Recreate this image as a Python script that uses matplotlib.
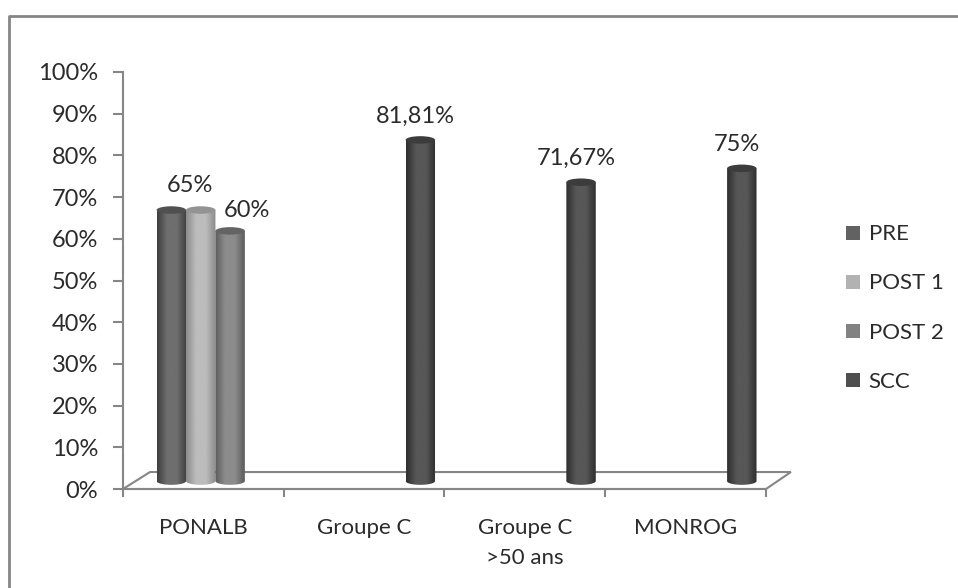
#!/usr/bin/env python
import numpy as np
import matplotlib
matplotlib.use('Agg')
import matplotlib.pyplot as plt
from matplotlib.colors import LinearSegmentedColormap
from matplotlib.lines import Line2D
from matplotlib.patches import Ellipse, Polygon
from matplotlib.path import Path

plt.rcParams['font.family'] = ['Lato', 'DejaVu Sans']
plt.rcParams['font.size'] = 17

categories = ['PONALB', 'Groupe C', 'Groupe C\n>50 ans', 'MONROG']
series_names = ['PRE', 'POST 1', 'POST 2', 'SCC']
pre = [65, None, None, None]
post1 = [65, None, None, None]
post2 = [60, None, None, None]
scc = [None, 81.81, 71.67, 75]
bar_labels_pre = ['65%', None, None, None]
bar_labels_post2 = ['60%', None, None, None]
bar_labels_scc = [None, '81,81%', '71,67%', '75%']
yticks = list(range(0, 101, 10))

GREY = '#868686'
TEXT = '#2b2b2b'
# edge, middle and top-cap shade of each series
shades = [('#3e3e3e', '#6e6e6e', '#505050'),
          ('#8c8c8c', '#bcbcbc', '#939393'),
          ('#5c5c5c', '#8c8c8c', '#646464'),
          ('#2e2e2e', '#575757', '#3c3c3c')]
legend_colors = ['#626262', '#b2b2b2', '#828282', '#4f4f4f']

fig = plt.figure(figsize=(9.58, 5.88), dpi=100)
W, H = 958.0, 588.0
ax = fig.add_axes([123 / W, 1 - 489 / H, 643 / W, 417 / H])

bar_w = 0.183       # one bar, in category units
depth_x = 0.075     # bars stand this far into the floor
depth_y = 1.9
cap = 0.9           # half height of the elliptical cap, in percent


def cylinder(x, value, colors):
    left, right = x - bar_w / 2, x + bar_w / 2
    t = np.linspace(np.pi, 2 * np.pi, 30)
    xs = x + bar_w / 2 * np.cos(t)
    ys = depth_y + cap * np.sin(t)
    verts = list(zip(xs, ys)) + [(right, value + depth_y), (left, value + depth_y), (left, depth_y)]
    clip = Path(verts)
    cmap = LinearSegmentedColormap.from_list('c', [colors[0], colors[1], colors[1], colors[0]])
    grad = np.linspace(0, 1, 64).reshape(1, -1)
    im = ax.imshow(grad, cmap=cmap, aspect='auto', zorder=3,
                   extent=[left, right, 0, value + depth_y])
    im.set_clip_path(clip, transform=ax.transData)
    ax.add_patch(Ellipse((x, value + depth_y), bar_w, 2 * cap, color=colors[2], zorder=4, lw=0))


# floor
floor = Polygon([(-0.5, 0), (-0.5 + 0.168, 4.07), (3.5 + 0.155, 4.07), (3.5, 0)], closed=True,
                fill=False, edgecolor=GREY, lw=1.5, clip_on=False, zorder=1)
ax.add_patch(floor)

all_series = [pre, post1, post2, scc]
for j, values in enumerate(all_series):
    for i, v in enumerate(values):
        if v is None:
            continue
        x = i + (j - 1.5) * bar_w + depth_x
        cylinder(x, v, shades[j])

for labels, j, dx, dy in [(bar_labels_pre, 0, 19, 18), (bar_labels_post2, 2, 17, 14), (bar_labels_scc, 3, -5, 17)]:
    for i, lab in enumerate(labels):
        if lab is None:
            continue
        x = i + (j - 1.5) * bar_w + depth_x
        ax.annotate(lab, (x, all_series[j][i] + depth_y), xytext=(dx * 0.72, dy * 0.72),
                    textcoords='offset points', ha='center', va='baseline',
                    color=TEXT, zorder=5, annotation_clip=False)

ax.set_xlim(-0.5, 3.5)
ax.set_ylim(0, 100)
ax.patch.set_visible(False)
for s in ['top', 'right']:
    ax.spines[s].set_visible(False)
for s in ['left', 'bottom']:
    ax.spines[s].set_color(GREY)
    ax.spines[s].set_linewidth(1.5)

ax.set_yticks(yticks)
ax.set_yticklabels([f'{v}%' for v in yticks], color=TEXT)
ax.tick_params(axis='y', length=7, width=1.5, color=GREY, pad=11)
ax.set_xticks(range(4))
ax.set_xticklabels(categories, color=TEXT, fontsize=16, linespacing=1.6)
ax.set_xticks(np.arange(-0.5, 4), minor=True)
ax.tick_params(axis='x', which='major', length=0, pad=21)
ax.tick_params(axis='x', which='minor', length=6, width=1.5, color=GREY)

handles = [Line2D([], [], linestyle='none', marker='s', markersize=10, color=c, markeredgewidth=0)
           for c in legend_colors]
fig.legend(handles, series_names, loc='center left', bbox_to_anchor=(842 / W, 1 - 308 / H),
           frameon=False, handlelength=1.0, handletextpad=0.2, labelspacing=1.31, fontsize=16,
           labelcolor=TEXT, borderpad=0, borderaxespad=0)

# chart frame, cropped at the right and bottom
fig.add_artist(Line2D([9 / W, 9 / W, 1], [0, 1 - 16 / H, 1 - 16 / H], color=GREY, lw=2))

fig.savefig('out.png', dpi=100)
